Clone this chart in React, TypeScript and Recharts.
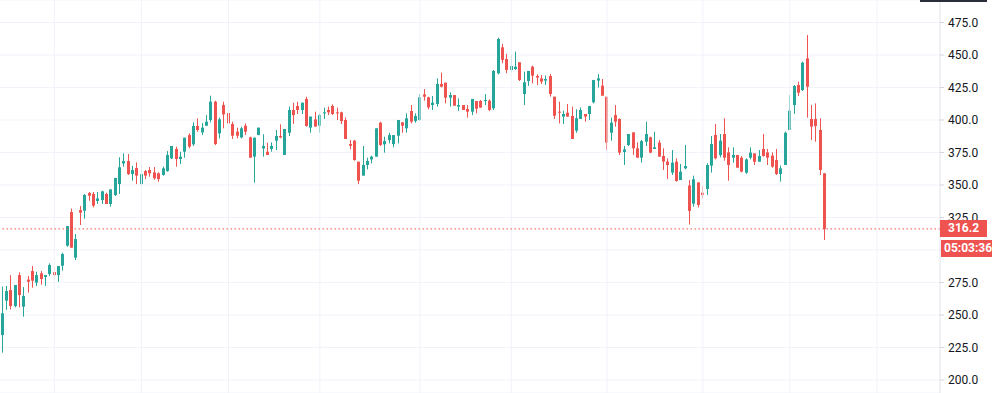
import React from "react";
import {
  ComposedChart,
  Bar,
  XAxis,
  YAxis,
  CartesianGrid,
  ReferenceLine,
} from "recharts";

// daily OHLC
const opens = [
  234.6, 261, 269.2, 256.9, 280.7, 256.4, 277.2, 283.8, 274.9, 282, 279.2, 281.5, 283, 280.7, 287.9, 303.3, 329.2, 294.1, 330.7, 330.2,
  343.8, 343.1, 337.7, 338.4, 343.1, 335.4, 342.3, 350.7, 366.6, 368.4, 358.4, 363.1, 350.7, 360.7, 361.5, 359.7, 359, 357.7, 360.7, 370.5,
  377.7, 370, 375.6, 388.4, 381.3, 395.4, 390.5, 395.6, 400, 414.1, 389.7, 411.5, 405.4, 396.9, 391, 386.6, 395.6, 386.6, 371.8, 388.4,
  378.2, 375.6, 377.7, 384.1, 387.7, 373.1, 390.2, 407.7, 410.8, 407.7, 416.2, 394.1, 400.5, 395.6, 405.1, 407.7, 410.8, 405.9, 405.9, 400,
  381.5, 384.1, 367.9, 357.2, 365.4, 369.7, 371.8, 397.9, 381.3, 384.6, 381.5, 387.9, 398.2, 393.6, 406.9, 399.2, 400, 419.7, 417.4, 411.5,
  412.3, 427.7, 428.7, 417.2, 419.2, 410.3, 411.5, 408.5, 406.4, 414.6, 414.6, 414.6, 414.9, 409, 435.9, 455.9, 446.9, 438.5, 439.2, 444.4,
  420, 430, 441, 433.8, 432, 430.3, 433.8, 417.9, 406.4, 402.6, 405.6, 403.1, 391.8, 400.8, 404.6, 404.6, 413.6, 430.3, 426.4, 417.9,
  390.2, 403.8, 400.8, 375.4, 380.8, 390.5, 378.2, 371, 383.3, 386.7, 377.7, 382.6, 372.3, 368, 359.5, 368, 353.8, 362.8, 349.6, 335.6,
  352, 344.1, 346.9, 364.9, 388.5, 373, 389.2, 375.1, 371, 373.1, 371, 359.5, 371, 374.3, 367.9, 377.7, 375.1, 372.6, 369.2, 358.5,
  365.4, 392.3, 411.5, 426.9, 423.1, 447.4, 400.8, 400.8, 392.3, 359,
];
const highs = [
  271.8, 272.3, 280.7, 273.1, 282.8, 271.5, 280, 287.7, 283.3, 283.8, 280.7, 289.7, 287.2, 287.7, 297.9, 318.4, 331.8, 312.3, 333.8, 343.1,
  344.6, 344.6, 344.6, 345.6, 344.1, 346.6, 355.4, 371.3, 374.3, 373.8, 364.8, 367.4, 365.4, 361.5, 363.8, 363.8, 359.7, 364.1, 376.1, 380,
  379.5, 375.6, 386.4, 389.7, 398.2, 401.3, 397.7, 403.8, 418.7, 414.8, 401.8, 414.1, 406.4, 398.7, 394.1, 394.8, 397.4, 387.2, 386.4, 394.1,
  389, 382.5, 382.8, 392.3, 396.7, 393.1, 410.3, 413.3, 414.1, 413.3, 417.9, 402.6, 406.4, 405.1, 409.5, 410.3, 412, 409.5, 406.4, 402,
  384.6, 384.6, 367.9, 380, 371, 372.6, 393.6, 398.7, 387.2, 390.2, 388.4, 400, 398.2, 405.1, 411.5, 405.1, 420, 423.8, 417.9, 418.5,
  432, 436.4, 428.7, 421.3, 419.2, 416.7, 411.5, 411.5, 416.2, 414.6, 415.4, 420, 415.9, 438.5, 463.3, 458.5, 450.8, 450, 452.6, 444.4,
  437.2, 437.7, 441.8, 435.1, 434.6, 434.1, 435.4, 417.9, 414.1, 407.2, 412.3, 410.3, 408.2, 409.7, 404.6, 410.8, 430.8, 435.4, 431.5, 417.9,
  401.8, 411.5, 401.3, 380, 389.2, 390.5, 382.8, 384.6, 398.7, 387.2, 391, 384.6, 378.2, 370.5, 376.9, 370.5, 366.2, 380.8, 353.8, 357.2,
  352.1, 349.2, 366.7, 387.7, 396.9, 389.2, 401.3, 379, 379, 373.1, 372.3, 370.5, 379, 374.3, 376.9, 389.2, 377.7, 375.1, 377.7, 364.9,
  391, 419.2, 426.9, 429.5, 444.9, 465.4, 411.5, 412.8, 401.3, 359,
];
const lows = [
  221, 253.9, 254.3, 255.9, 255.9, 248.7, 267.2, 271, 272.3, 273.3, 272.3, 280, 277.9, 275.4, 284.1, 302.5, 301.8, 292.3, 319.2, 324.1,
  337.9, 332.8, 335.4, 335.4, 335.4, 333.3, 341.5, 343.1, 364.1, 357.7, 353.3, 350.7, 348.7, 354.6, 356.4, 354.1, 352.5, 357.2, 360.2, 370,
  364.1, 366.1, 371, 378.2, 380, 391, 388.4, 395.6, 398.2, 380.7, 385.9, 393.6, 393, 385.4, 385.9, 385.9, 388.4, 371, 351.8, 388.4,
  371.8, 373.1, 375.6, 376.9, 385.9, 373.1, 387.7, 397, 404.6, 404.6, 394.9, 390.2, 394.9, 390.2, 400.8, 403.8, 403.8, 400, 396.9, 385.4,
  377.4, 368.7, 350.8, 357.2, 362.1, 366.7, 371.8, 380, 374.9, 382, 379, 382, 390.2, 390.2, 397.4, 397.9, 399.5, 414.9, 408.2, 407.7,
  410.3, 425.1, 412.8, 410.3, 411, 406.9, 407.7, 401.8, 403.8, 405.1, 409.5, 411.5, 406.9, 407.7, 435.1, 443.6, 435.9, 436.7, 438.5, 430,
  411.5, 426.2, 428.2, 426.9, 427.7, 426.9, 418, 400.8, 397.4, 396.9, 402.6, 385.4, 390.2, 400.8, 398.7, 400, 412.8, 424.9, 418.7, 376.9,
  384.1, 394.9, 373.1, 365.4, 380, 373.1, 371, 367.2, 380, 374.4, 377.7, 371.8, 361.5, 354.6, 357.7, 352.6, 353.8, 362.1, 319.6, 333.3,
  332.7, 339.7, 342.3, 359.5, 369.7, 371.3, 368.7, 353.3, 367.2, 363.3, 359.7, 358.5, 369.7, 365.4, 367.9, 371.8, 365.4, 363.3, 357.7, 352.6,
  365.4, 392.3, 404.6, 418.5, 422.3, 401.8, 384.6, 383.3, 357.7, 307.7,
];
const closes = [
  251.3, 268.4, 256.9, 273.1, 265.4, 264.6, 275.6, 276.4, 280.7, 277.7, 280.7, 288.4, 280.7, 287.7, 296.9, 318.4, 301.8, 308.4, 328.7, 342.3,
  341.8, 334.1, 339.7, 345.1, 335.4, 346.6, 355.4, 363.6, 368.4, 358.4, 361.5, 357.2, 358.4, 357.2, 359, 355.1, 354.6, 362.8, 373.1, 380,
  370, 371.8, 386.4, 379.5, 395.4, 392.3, 394.1, 398.7, 414.1, 381.5, 400.5, 404.3, 397.4, 387.9, 387.9, 393.6, 391, 371, 386.4, 394.1,
  380, 373.1, 380, 387.7, 386.6, 393.1, 407.7, 403.8, 407.7, 413.3, 395.4, 402.6, 394.9, 403.8, 405.9, 405.9, 404.6, 405.1, 399.2, 385.4,
  380.2, 369.2, 353.3, 365.4, 368.5, 371.8, 393.6, 380.8, 383.8, 388.4, 388.4, 400, 395.6, 401.3, 398.7, 403.1, 417.4, 417.9, 409.7, 413.3,
  427.7, 425.6, 417.2, 419.2, 411, 411.5, 407.7, 406.4, 416.2, 408.7, 409.5, 415.4, 407.7, 437.7, 462.3, 446.2, 438.5, 441.5, 441, 430.8,
  429, 437.7, 434.1, 432.6, 429.5, 431.5, 420, 403.3, 405.6, 404.6, 402.6, 385.4, 401.3, 407.7, 402.6, 410.8, 430.8, 432, 418.7, 382.6,
  397.9, 398.7, 374.9, 377.4, 389.2, 378.2, 371, 383.8, 389.2, 374.9, 379, 371.8, 368, 365.4, 367.2, 353.1, 360.2, 364.6, 330.1, 354.4,
  334.6, 342.3, 365.4, 381.5, 370.5, 384.1, 371, 365.4, 373.1, 363.3, 360.3, 369.7, 374.9, 367.9, 372.3, 372.3, 371, 364.1, 358.5, 362.8,
  390.2, 407.2, 426.1, 421, 444.1, 425.6, 394.9, 395.4, 361.5, 316.2,
];

// first session of each month (bar index); last one falls in the empty right margin
const monthStarts = [12, 32, 52, 73, 96, 117, 139, 161, 181, 201];
const priceTicks = [200, 225, 250, 275, 300, 325, 350, 375, 400, 425, 450, 475];
// the 300.0 label sits under the countdown badge in the original
const hiddenTickLabels = [300];
const lastPrice = 316.2;
const countdown = "05:03:36";

const SLOTS = 216;
const W = 993;
const H = 393;
const AXIS_W = 53;
const Y_MIN = 190;
const Y_MAX = 492.3;

const UP = "#26a69a";
const DOWN = "#ef5350";
const GRID = "#f0f3fa";

const data = Array.from({ length: SLOTS }, (_, i) =>
  i < opens.length
    ? {
        i,
        open: opens[i],
        high: highs[i],
        low: lows[i],
        close: closes[i],
        range: [lows[i], highs[i]],
      }
    : { i, range: null }
);

function Candle(props: any) {
  const { x, y, width, height, payload } = props;
  if (!payload || payload.open == null) return null;
  const { open, close, high, low } = payload;
  const color = close >= open ? UP : DOWN;
  const k = height / (high - low || 1);
  const cx = Math.floor(x + width / 2);
  const top = y + (high - Math.max(open, close)) * k;
  const bottom = y + (high - Math.min(open, close)) * k;
  return (
    <g>
      <rect x={cx} y={y} width={1} height={Math.max(height, 1)} fill={color} />
      <rect
        x={cx - 1}
        y={top}
        width={3}
        height={Math.max(bottom - top, 1)}
        fill={color}
      />
    </g>
  );
}

export default function App() {
  const lastY = ((Y_MAX - lastPrice) / (Y_MAX - Y_MIN)) * H;
  const font = "Roboto, sans-serif";

  const badge = {
    position: "absolute" as const,
    background: DOWN,
    color: "#fff",
    fontFamily: font,
    fontSize: 12,
    fontWeight: 700,
    boxSizing: "border-box" as const,
    whiteSpace: "nowrap" as const,
  };

  return (
    <div
      style={{
        position: "fixed",
        left: 0,
        top: 0,
        width: W,
        height: H,
        background: "#fff",
        overflow: "hidden",
      }}
    >
      <ComposedChart
        width={W}
        height={H}
        data={data}
        margin={{ top: 0, right: 0, left: 0, bottom: 0 }}
        barCategoryGap={0}
      >
        <CartesianGrid vertical={false} stroke={GRID} />
        <XAxis dataKey="i" hide />
        <YAxis
          orientation="right"
          width={AXIS_W}
          domain={[Y_MIN, Y_MAX]}
          allowDataOverflow
          ticks={priceTicks}
          tickFormatter={(v: number) =>
            hiddenTickLabels.includes(v) ? "" : v.toFixed(1)
          }
          tick={{ fill: "#131722", fontSize: 12, fontFamily: font }}
          axisLine={{ stroke: "#e0e3eb" }}
          tickLine={{ stroke: "#d1d4dc" }}
          tickSize={4}
          tickMargin={4}
        />
        {monthStarts.map((m) => (
          <ReferenceLine key={m} x={m} stroke={GRID} />
        ))}
        <Bar dataKey="range" shape={Candle} isAnimationActive={false} />
        <ReferenceLine
          y={lastPrice}
          stroke={DOWN}
          strokeDasharray="1.5 2.5"
        />
      </ComposedChart>

      <div
        style={{
          position: "absolute",
          left: 920,
          top: 0,
          width: 67,
          height: 2,
          background: "#2a2e39",
        }}
      />
      <div
        style={{
          ...badge,
          left: W - AXIS_W,
          top: lastY - 9,
          width: 47,
          height: 17,
          lineHeight: "17px",
          paddingLeft: 8,
        }}
      >
        {lastPrice.toFixed(1)}
      </div>
      <div
        style={{
          ...badge,
          left: W - AXIS_W + 1,
          top: lastY + 11.5,
          width: 51,
          height: 16.5,
          lineHeight: "16.5px",
          paddingLeft: 3,
        }}
      >
        {countdown}
      </div>
    </div>
  );
}
